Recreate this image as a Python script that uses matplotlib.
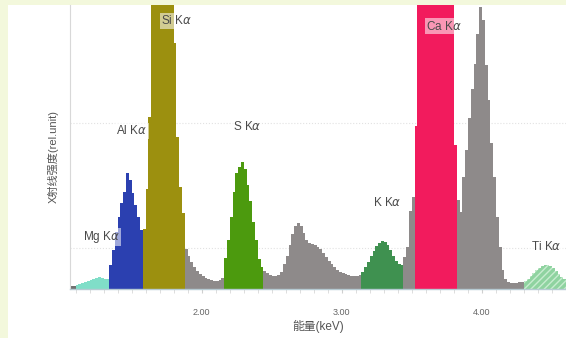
import numpy as np
import matplotlib
matplotlib.use("Agg")
import matplotlib.pyplot as plt
from matplotlib.patches import Rectangle

plt.rcParams['font.family'] = ['Liberation Sans', 'Noto Sans CJK SC', 'DejaVu Sans']

# bin width of the spectrum (keV)
BIN = 0.02

# each region: start energy (keV) + counts per bin (rel. unit)
bg_lo_start, bg_lo = 1.06, [3, 3]
mg_start, mg = 1.10, [4, 5, 6, 7, 8, 9, 10, 11, 12, 11, 10, 10]
al_start, al = 1.34, [24, 39, 57, 72, 86, 97, 116, 109, 96, 84, 72, 59]
si_start, si = 1.58, [60, 100, 172, 330, 420, 480, 500, 470, 420, 360, 300, 246, 152, 102, 76]
gap1_start, gap1 = 1.88, [40, 33, 27, 22, 18, 15, 13, 11, 10, 9, 8, 8, 9, 11]
s_start, s = 2.16, [31, 49, 72, 97, 116, 122, 127, 120, 104, 88, 67, 49, 30, 22]
gap2_start, gap2 = 2.44, [18, 16, 14, 13, 13, 14, 17, 25, 33, 44,
                          55, 63, 66, 63, 56, 49, 46, 45, 44, 42,
                          40, 36, 32, 28, 25, 22, 19, 17, 16, 15,
                          14, 13, 13, 13, 14]
k_start, k = 3.14, [17, 22, 27, 33, 38, 43, 46, 48, 47, 44, 39, 33, 28, 25, 24]
gap3_start, gap3 = 3.44, [32, 42, 78, 92]
ca_start, ca = 3.52, [163, 300, 380, 450, 520, 580, 620, 640, 620, 580, 520, 450, 380, 300, 144]
gap4_start, gap4 = 3.82, [89, 77, 112, 139, 171, 200, 225, 255, 282, 269,
                          224, 189, 146, 112, 72, 42, 19, 10, 7, 6, 6, 6, 7, 7]
ti_start, ti = 4.30, [8, 10, 13, 16, 19, 21, 23, 24, 24, 23, 21, 18, 15, 12, 10, 8]

# peak labels
peak_names = ["Mg K$\\alpha$", "Al K$\\alpha$", "Si K$\\alpha$", "S K$\\alpha$",
              "K K$\\alpha$", "Ca K$\\alpha$", "Ti K$\\alpha$"]
peak_label_pos = [(1.15, 52), (1.39, 158), (1.71, 268), (2.22, 162),
                  (3.22, 86), (3.60, 263), (4.35, 42)]

xtick_vals = [2.0, 3.0, 4.0]
xtick_labels = ["2.00", "3.00", "4.00"]

GRAY = "#8e8a8a"
regions = [
    (bg_lo_start, bg_lo, "#707070", None),
    (mg_start, mg, "#80dec8", None),
    (al_start, al, "#2b40b0", None),
    (si_start, si, "#9c900f", None),
    (gap1_start, gap1, GRAY, None),
    (s_start, s, "#4c9a0e", None),
    (gap2_start, gap2, GRAY, None),
    (k_start, k, "#3f9150", None),
    (gap3_start, gap3, GRAY, None),
    (ca_start, ca, "#f21b5d", None),
    (gap4_start, gap4, GRAY, None),
    (ti_start, ti, "#8fd3a0", "/////"),
]

fig = plt.figure(figsize=(5.66, 3.38), dpi=100)
fig.patch.set_facecolor("#f3f8dc")
# white page area inside the yellowish scan border
fig.patches.append(Rectangle((8 / 566, 0), 1, 333 / 338, transform=fig.transFigure,
                             facecolor="white", edgecolor="none", zorder=-10))

ax = fig.add_axes([70 / 566, 49 / 338, 496 / 566, 284 / 338])
ax.set_facecolor("white")
ax.set_zorder(1)

for start, counts, color, hatch in regions:
    energy = start + BIN * np.arange(len(counts))
    if hatch:
        ax.bar(energy, counts, width=BIN, align="edge", color=color,
               edgecolor="#c8ecd0", linewidth=0, hatch=hatch, zorder=2)
    else:
        ax.bar(energy, counts, width=BIN, align="edge", color=color,
               linewidth=0, zorder=2)

for name, (x, y) in zip(peak_names, peak_label_pos):
    ax.text(x, y, name, fontsize=8.5, color="#4a4a4a", va="center", ha="left", zorder=3,
            bbox=dict(boxstyle="square,pad=0.1", fc="white", ec="none", alpha=0.55))

ax.set_xlim(1.06, 4.60)
ax.set_ylim(0, 284)

# faint horizontal guide lines
ax.set_yticks([41, 166])
ax.set_yticklabels([])
ax.tick_params(axis="y", length=0)
ax.grid(axis="y", color="#e2e2e2", linestyle=":", linewidth=0.8, zorder=0)

ax.set_xticks(xtick_vals)
ax.set_xticklabels(xtick_labels)
ax.set_xticks(np.arange(1.1, 4.61, 0.1), minor=True)
ax.tick_params(axis="x", which="major", length=3, color="#cfcfcf", pad=11,
               labelsize=6.5, labelcolor="#666666")
ax.tick_params(axis="x", which="minor", length=3, color="#d8d8d8")

for side in ["top", "right"]:
    ax.spines[side].set_visible(False)
ax.spines["left"].set_color("#d8d8d8")
ax.spines["left"].set_linewidth(0.8)
ax.spines["bottom"].set_color("#b6cad2")
ax.spines["bottom"].set_linewidth(1.0)

ax.set_xlabel("能量(keV)", fontsize=8.5, color="#555555")
ax.xaxis.set_label_coords(0.5, -0.11)
ax.set_ylabel("X射线强度(rel.unit)", fontsize=8, color="#555555")
ax.yaxis.set_label_coords(-0.022, 0.465)

plt.savefig("out.png", dpi=100, facecolor=fig.get_facecolor())
